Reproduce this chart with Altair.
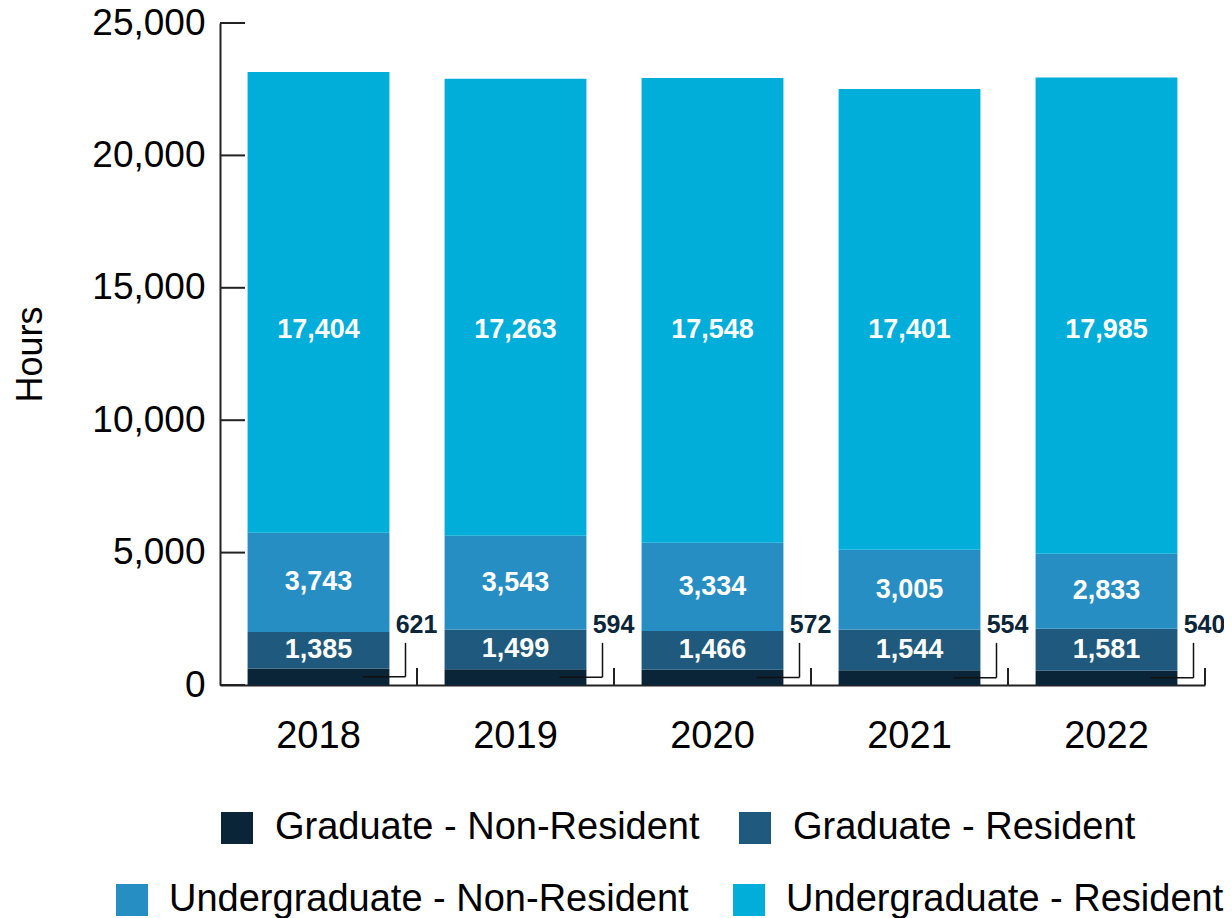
import altair as alt
import pandas as pd

years = ["2018", "2019", "2020", "2021", "2022"]
grad_nonres = [621, 594, 572, 554, 540]
grad_res = [1385, 1499, 1466, 1544, 1581]
ug_nonres = [3743, 3543, 3334, 3005, 2833]
ug_res = [17404, 17263, 17548, 17401, 17985]
grad_cats = ["Graduate - Non-Resident", "Graduate - Resident"]
ug_cats = ["Undergraduate - Non-Resident", "Undergraduate - Resident"]
grad_colors = ["#0b2538", "#1f5a7e"]
ug_colors = ["#278ec4", "#00aed9"]
y_tick_values = [0, 5000, 10000, 15000, 20000, 25000]

rows = []
for i, yr in enumerate(years):
    acc = 0
    vals = [grad_nonres[i], grad_res[i], ug_nonres[i], ug_res[i]]
    for cat, v in zip(grad_cats + ug_cats, vals):
        rows.append({"year": yr, "cat": cat, "value": v,
                     "start": acc, "end": acc + v, "mid": acc + v / 2})
        acc += v
df = pd.DataFrame(rows)
ticks_df = pd.DataFrame({"v": y_tick_values})

FONT = "Liberation Sans"
NAVY = "#0b2538"

x_axis = alt.Axis(title=None, labelAngle=0, labelFontSize=38, labelColor="black",
                  labelFont=FONT, labelPadding=32, ticks=False, domainColor="#222222",
                  domainWidth=2, grid=False)
x_scale = alt.Scale(domain=years, paddingInner=0.28, paddingOuter=0.14)
y_axis = alt.Axis(title="Hours", values=y_tick_values,
                  labelExpr="format(datum.value, ',')", labelFontSize=37,
                  labelColor="black", labelFont=FONT, labelPadding=15, ticks=False,
                  domainColor="#222222", domainWidth=2, grid=False, titleFontSize=36,
                  titleFont=FONT, titleFontWeight="normal", titleColor="black",
                  titlePadding=42)
y_scale = alt.Scale(domain=[0, 25000], nice=False, zero=True)


def X():
    return alt.X("year:N", scale=x_scale, axis=x_axis)


def Y(field):
    return alt.Y(field, scale=y_scale, axis=y_axis, title="Hours")


base = alt.Chart(df)

grad_bars = base.transform_filter(
    alt.FieldOneOfPredicate(field="cat", oneOf=grad_cats)
).mark_bar().encode(
    x=X(), y=Y("start:Q"), y2="end:Q",
    color=alt.Color("cat:N", scale=alt.Scale(domain=grad_cats, range=grad_colors),
                    legend=alt.Legend(orient="none", legendX=-2, legendY=786,
                                      direction="horizontal", title=None,
                                      symbolType="square", symbolSize=1024,
                                      symbolStrokeWidth=0, symbolOpacity=1,
                                      labelFontSize=38, labelFont=FONT,
                                      labelColor="black", labelOffset=19,
                                      columnPadding=36, labelLimit=1000, padding=0)),
)

ug_bars = base.transform_filter(
    alt.FieldOneOfPredicate(field="cat", oneOf=ug_cats)
).mark_bar().encode(
    x=X(), y=Y("start:Q"), y2="end:Q",
    color=alt.Color("cat:N", scale=alt.Scale(domain=ug_cats, range=ug_colors),
                    legend=alt.Legend(orient="none", legendX=-107, legendY=858,
                                      direction="horizontal", title=None,
                                      symbolType="square", symbolSize=1024,
                                      symbolStrokeWidth=0, symbolOpacity=1,
                                      labelFontSize=38, labelFont=FONT,
                                      labelColor="black", labelOffset=18,
                                      columnPadding=41, labelLimit=1000, padding=0)),
)

mid_labels = base.transform_filter(
    alt.FieldOneOfPredicate(field="cat", oneOf=["Graduate - Resident", "Undergraduate - Non-Resident"])
).mark_text(font=FONT, fontSize=27, fontWeight="bold", color="white",
            baseline="middle", align="center").encode(
    x=X(), y=Y("mid:Q"), text=alt.Text("value:Q", format=",")
)

top_labels = base.transform_filter(
    alt.datum.cat == "Undergraduate - Resident"
).transform_calculate(ylab="13400").mark_text(
    font=FONT, fontSize=27, fontWeight="bold", color="white",
    baseline="middle", align="center").encode(
    x=X(), y=Y("ylab:Q"), text=alt.Text("value:Q", format=",")
)

small = base.transform_filter(alt.datum.cat == "Graduate - Non-Resident").transform_calculate(
    ylab="2266", ltop="1590")

small_labels = small.mark_text(font=FONT, fontSize=25, fontWeight="bold", color=NAVY,
                               baseline="middle", align="center", xOffset=98).encode(
    x=X(), y=Y("ylab:Q"), text=alt.Text("value:Q", format=",")
)

leader_h = small.mark_rule(color="#111111", strokeWidth=1.5, xOffset=44, x2Offset=87).encode(
    x=X(), x2="year:N", y=Y("mid:Q")
)
leader_v = small.mark_rule(color="#111111", strokeWidth=1.5, xOffset=87).encode(
    x=X(), y=Y("mid:Q"), y2="ltop:Q"
)

y_ticks = alt.Chart(ticks_df).mark_rule(color="#222222", strokeWidth=2).encode(
    y=Y("v:Q"), x=alt.value(0), x2=alt.value(25)
)

x_ticks = alt.Chart(pd.DataFrame({"year": years})).mark_rule(
    color="#222222", strokeWidth=2, xOffset=98.5).encode(
    x=X(), y=alt.value(662), y2=alt.value(645)
)

chart = alt.layer(
    grad_bars, ug_bars, mid_labels, top_labels, small_labels, leader_h, leader_v,
    y_ticks, x_ticks
).resolve_scale(color="independent").properties(
    width=985, height=662,
    autosize=alt.AutoSizeParams(type="none"),
    padding={"left": 212, "top": 15, "right": 19, "bottom": 233},
).configure_view(stroke=None).configure_legend(padding=0)

chart.save("out.html", embed_options={"renderer": "svg", "actions": False})
